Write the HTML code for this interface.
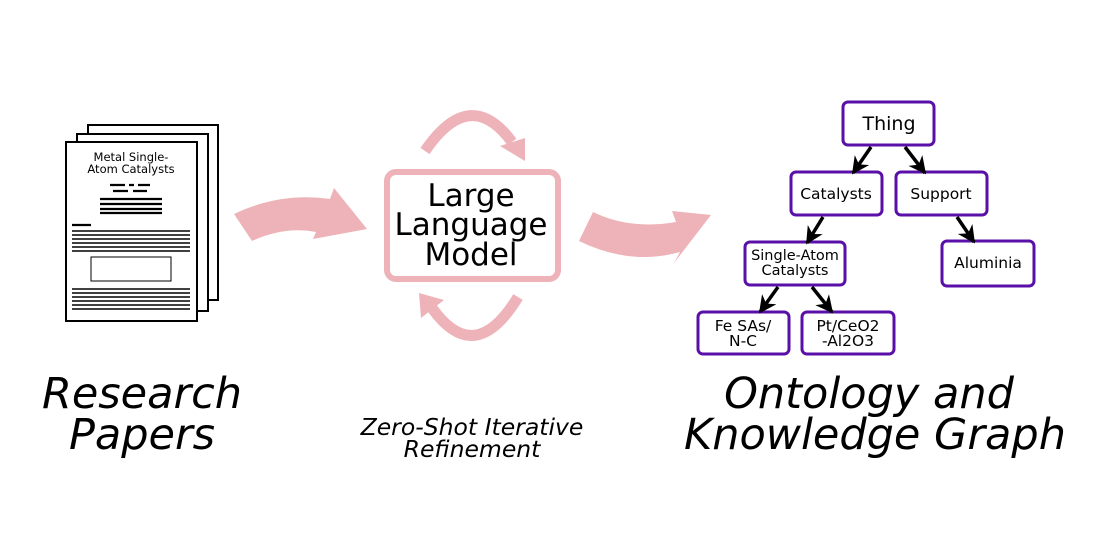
<!DOCTYPE html>
<html><head><meta charset="utf-8"><style>
html,body{margin:0;padding:0;background:#fff}
svg{display:block}
text{font-family:"DejaVu Sans","Liberation Sans",sans-serif}
</style></head><body>
<svg width="1100" height="550" viewBox="0 0 1100 550" xmlns="http://www.w3.org/2000/svg">
<defs>
<marker id="ah" viewBox="0 0 10 10" refX="9" refY="5" markerWidth="5" markerHeight="5" orient="auto" markerUnits="strokeWidth">
<path d="M0,0 L10,5 L0,10 L3,5 z" fill="#000"/></marker>
</defs>
<!-- papers -->
<g stroke="#000" stroke-width="2" fill="#fff">
<rect x="88" y="125" width="130" height="175"/>
<rect x="77" y="134" width="131" height="177"/>
<rect x="66" y="142" width="131" height="179"/>
</g>
<text x="131" y="161" font-size="11.5" text-anchor="middle">Metal Single-</text>
<text x="131" y="173" font-size="11.5" text-anchor="middle">Atom Catalysts</text>
<g stroke="#000" stroke-width="2.2">
<path d="M110 185h15M129 185h5M138 185h12M113 191h15M133 191h14"/>
<path d="M100 199h62M100 204h62M100 209h62M100 213h62"/>
<path d="M72 225h19"/>
</g>
<g stroke="#000" stroke-width="1.4">
<path d="M72 231h118M72 235h118M72 239h118M72 243h118M72 247h118M72 251h118"/>
<path d="M72 289h118M72 293h118M72 297h118M72 301h118M72 305h118M72 309h118"/>
</g>
<rect x="91" y="257" width="80" height="24" fill="none" stroke="#000" stroke-width="1"/>
<!-- big arrows -->
<g fill="#eeb3b8">
<path d="M234 214 Q280 192 330 199 L334 188 L367 229 L313 239 L316 232 Q285 226 252 241 Z"/>
<path d="M579 241 Q630 266 680 252 L674 263 L711 215 L672 211 L676 222 Q630 230 593 212 Z"/>
</g>
<!-- LLM box -->
<rect x="387" y="172" width="171" height="107" rx="9" fill="none" stroke="#eeb3b8" stroke-width="6"/>
<text x="471" y="206" font-size="31" text-anchor="middle">Large</text>
<text x="471" y="235" font-size="31" text-anchor="middle">Language</text>
<text x="471" y="265" font-size="31" text-anchor="middle">Model</text>
<!-- loops -->
<g fill="none" stroke="#eeb3b8" stroke-width="11">
<path d="M425 151 Q470 85 512 142"/>
<path d="M518 297 Q475 368 432 308"/>
</g>
<g fill="#eeb3b8">
<polygon points="500,146 525,138 525,161"/>
<polygon points="419,293 444,300 421,318"/>
</g>
<!-- ontology -->
<g fill="#fff" stroke="#5a0fa8" stroke-width="3">
<rect x="843" y="102" width="91" height="43" rx="5"/>
<rect x="791" y="172" width="91" height="43" rx="5"/>
<rect x="896" y="172" width="91" height="43" rx="5"/>
<rect x="745" y="242" width="100" height="43" rx="5"/>
<rect x="942" y="241" width="92" height="45" rx="5"/>
<rect x="698" y="312" width="91" height="42" rx="5"/>
<rect x="802" y="312" width="92" height="42" rx="5"/>
</g>
<g stroke="#000" stroke-width="3.5" marker-end="url(#ah)">
<path d="M871 147 L853 173"/>
<path d="M905 147 L925 173"/>
<path d="M823 217 L807 243"/>
<path d="M957 217 L974 242"/>
<path d="M778 287 L760 312"/>
<path d="M812 287 L832 312"/>
</g>
<g text-anchor="middle">
<text x="889" y="130" font-size="19">Thing</text>
<text x="836" y="199" font-size="15.5">Catalysts</text>
<text x="941" y="199" font-size="15.5">Support</text>
<text x="795" y="260" font-size="14.5">Single-Atom</text>
<text x="795" y="275" font-size="14.5">Catalysts</text>
<text x="988" y="268" font-size="15.5">Aluminia</text>
<text x="743" y="331" font-size="15.5">Fe SAs/</text>
<text x="743" y="346" font-size="15.5">N-C</text>
<text x="848" y="331" font-size="15.5">Pt/CeO2</text>
<text x="848" y="346" font-size="15.5">-Al2O3</text>
</g>
<!-- labels -->
<g font-style="italic" text-anchor="middle">
<text x="142" y="408" font-size="43">Research</text>
<text x="142" y="449" font-size="43">Papers</text>
<text x="472" y="435" font-size="23.5">Zero-Shot Iterative</text>
<text x="472" y="457" font-size="23.5">Refinement</text>
<text x="869" y="408" font-size="43">Ontology and</text>
<text x="875" y="449" font-size="43">Knowledge Graph</text>
</g>
</svg>
</body></html>
